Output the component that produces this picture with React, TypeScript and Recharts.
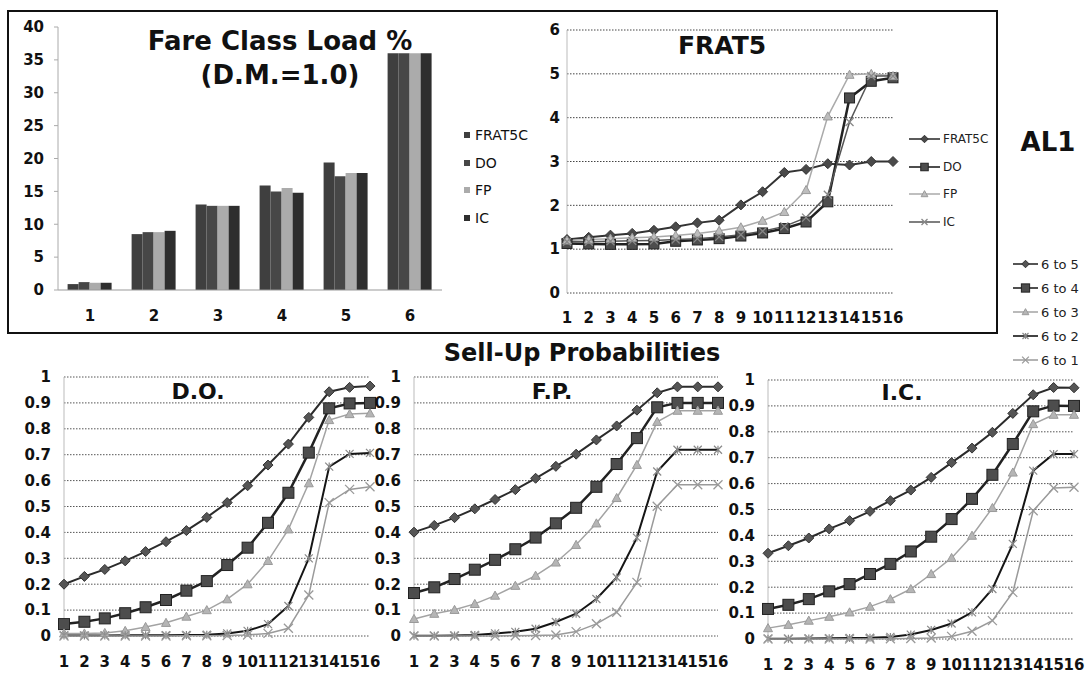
import React from "react";
import { BarChart, Bar, LineChart, Line, XAxis, YAxis, CartesianGrid } from "recharts";

// ---------- data ----------

const FARE_CLASSES = ["1", "2", "3", "4", "5", "6"];
const LOAD_FRAT5C = [0.9, 8.5, 13.0, 15.9, 19.4, 36.0];
const LOAD_DO = [1.2, 8.8, 12.8, 15.0, 17.3, 36.0];
const LOAD_FP = [1.1, 8.8, 12.8, 15.5, 17.8, 36.0];
const LOAD_IC = [1.1, 9.0, 12.8, 14.8, 17.8, 36.0];
const LOAD_TICKS = [0, 5, 10, 15, 20, 25, 30, 35, 40];

const TIME_FRAMES = ["1", "2", "3", "4", "5", "6", "7", "8", "9", "10", "11", "12", "13", "14", "15", "16"];

const FRAT5_FRAT5C = [1.22, 1.27, 1.32, 1.36, 1.43, 1.51, 1.6, 1.66, 2.01, 2.31, 2.75, 2.82, 2.95, 2.92, 3.0, 3.0];
const FRAT5_DO = [1.13, 1.12, 1.11, 1.11, 1.12, 1.18, 1.21, 1.24, 1.3, 1.37, 1.47, 1.62, 2.08, 4.45, 4.83, 4.91];
const FRAT5_FP = [1.2, 1.22, 1.24, 1.26, 1.28, 1.31, 1.36, 1.42, 1.5, 1.65, 1.85, 2.35, 4.03, 4.98, 5.0, 4.95];
const FRAT5_IC = [1.17, 1.17, 1.18, 1.19, 1.2, 1.22, 1.24, 1.28, 1.33, 1.41, 1.52, 1.72, 2.24, 3.9, 4.95, 4.95];
const FRAT5_TICKS = [0, 1, 2, 3, 4, 5, 6];

const DO_6TO5 = [0.2, 0.23, 0.257, 0.29, 0.326, 0.364, 0.407, 0.458, 0.515, 0.58, 0.66, 0.741, 0.844, 0.943, 0.96, 0.965];
const DO_6TO4 = [0.046, 0.055, 0.068, 0.088, 0.111, 0.139, 0.175, 0.212, 0.274, 0.341, 0.437, 0.553, 0.708, 0.879, 0.898, 0.9];
const DO_6TO3 = [0.01, 0.01, 0.012, 0.02, 0.035, 0.051, 0.075, 0.1, 0.142, 0.2, 0.29, 0.412, 0.59, 0.834, 0.857, 0.86];
const DO_6TO2 = [0.002, 0.002, 0.002, 0.003, 0.003, 0.003, 0.004, 0.005, 0.01, 0.02, 0.046, 0.116, 0.3, 0.654, 0.703, 0.707];
const DO_6TO1 = [0, 0, 0, 0, 0, 0, 0.001, 0.001, 0.002, 0.004, 0.01, 0.03, 0.158, 0.515, 0.566, 0.576];

const FP_6TO5 = [0.401, 0.427, 0.457, 0.491, 0.527, 0.565, 0.609, 0.655, 0.702, 0.757, 0.811, 0.872, 0.939, 0.962, 0.962, 0.962];
const FP_6TO4 = [0.166, 0.188, 0.22, 0.256, 0.294, 0.335, 0.38, 0.435, 0.495, 0.576, 0.664, 0.764, 0.883, 0.9, 0.9, 0.9];
const FP_6TO3 = [0.066, 0.086, 0.101, 0.124, 0.156, 0.194, 0.233, 0.284, 0.352, 0.435, 0.533, 0.661, 0.827, 0.87, 0.87, 0.87];
const FP_6TO2 = [0.001, 0.001, 0.002, 0.004, 0.01, 0.016, 0.028, 0.054, 0.086, 0.143, 0.226, 0.38, 0.635, 0.719, 0.719, 0.719];
const FP_6TO1 = [0, 0, 0, 0, 0, 0.001, 0.002, 0.004, 0.017, 0.047, 0.092, 0.207, 0.501, 0.584, 0.584, 0.584];

const IC_6TO5 = [0.331, 0.36, 0.39, 0.425, 0.457, 0.493, 0.534, 0.575, 0.624, 0.681, 0.737, 0.798, 0.871, 0.943, 0.971, 0.97];
const IC_6TO4 = [0.116, 0.132, 0.154, 0.184, 0.212, 0.251, 0.29, 0.338, 0.395, 0.463, 0.541, 0.634, 0.753, 0.879, 0.901, 0.9];
const IC_6TO3 = [0.042, 0.055, 0.071, 0.086, 0.103, 0.125, 0.154, 0.193, 0.251, 0.313, 0.399, 0.506, 0.643, 0.83, 0.866, 0.866];
const IC_6TO2 = [0.001, 0.001, 0.002, 0.003, 0.004, 0.005, 0.008, 0.017, 0.035, 0.06, 0.103, 0.193, 0.367, 0.65, 0.714, 0.714];
const IC_6TO1 = [0, 0, 0, 0, 0, 0, 0.001, 0.002, 0.004, 0.01, 0.03, 0.071, 0.18, 0.495, 0.583, 0.586];

const PROB_TICKS = [0, 0.1, 0.2, 0.3, 0.4, 0.5, 0.6, 0.7, 0.8, 0.9, 1];

// ---------- styles ----------

const FONT = '"DejaVu Sans", Verdana, sans-serif';
const TICK_STYLE = { fontSize: 15, fontWeight: "bold" as const, fill: "#111", fontFamily: FONT };

type Shape = "diamond" | "square" | "triangle" | "cross" | "star";

interface SeriesStyle {
  key: string;
  label: string;
  stroke: string;
  width: number;
  shape: Shape;
  size: number;
  fill: string;
  mark: string;
}

const FRAT5_SERIES: SeriesStyle[] = [
  { key: "frat5c", label: "FRAT5C", stroke: "#333", width: 2, shape: "diamond", size: 10, fill: "#4a4a4a", mark: "#333" },
  { key: "do", label: "DO", stroke: "#222", width: 2.5, shape: "square", size: 10, fill: "#4d4d4d", mark: "#222" },
  { key: "fp", label: "FP", stroke: "#aaa", width: 1.5, shape: "triangle", size: 9, fill: "#bdbdbd", mark: "#999" },
  { key: "ic", label: "IC", stroke: "#555", width: 1.5, shape: "cross", size: 8, fill: "none", mark: "#888" },
];

const SELLUP_SERIES: SeriesStyle[] = [
  { key: "s5", label: "6 to 5", stroke: "#2b2b2b", width: 2, shape: "diamond", size: 10, fill: "#555", mark: "#333" },
  { key: "s4", label: "6 to 4", stroke: "#222", width: 2.5, shape: "square", size: 11, fill: "#4d4d4d", mark: "#222" },
  { key: "s3", label: "6 to 3", stroke: "#a3a3a3", width: 1.5, shape: "triangle", size: 9, fill: "#b5b5b5", mark: "#9a9a9a" },
  { key: "s2", label: "6 to 2", stroke: "#151515", width: 2, shape: "star", size: 8, fill: "none", mark: "#888" },
  { key: "s1", label: "6 to 1", stroke: "#9a9a9a", width: 1.5, shape: "cross", size: 9, fill: "none", mark: "#9a9a9a" },
];

const LOAD_SERIES = [
  { key: "frat5c", label: "FRAT5C", fill: "#3f3f3f" },
  { key: "do", label: "DO", fill: "#474747" },
  { key: "fp", label: "FP", fill: "#ababab" },
  { key: "ic", label: "IC", fill: "#2e2e2e" },
];

// ---------- tables ----------

const loadData = FARE_CLASSES.map((c, i) => ({
  fareClass: c,
  frat5c: LOAD_FRAT5C[i],
  do: LOAD_DO[i],
  fp: LOAD_FP[i],
  ic: LOAD_IC[i],
}));

const frat5Data = TIME_FRAMES.map((t, i) => ({
  tf: t,
  frat5c: FRAT5_FRAT5C[i],
  do: FRAT5_DO[i],
  fp: FRAT5_FP[i],
  ic: FRAT5_IC[i],
}));

function sellUpRows(s5: number[], s4: number[], s3: number[], s2: number[], s1: number[]) {
  return TIME_FRAMES.map((t, i) => ({ tf: t, s5: s5[i], s4: s4[i], s3: s3[i], s2: s2[i], s1: s1[i] }));
}

const doData = sellUpRows(DO_6TO5, DO_6TO4, DO_6TO3, DO_6TO2, DO_6TO1);
const fpData = sellUpRows(FP_6TO5, FP_6TO4, FP_6TO3, FP_6TO2, FP_6TO1);
const icData = sellUpRows(IC_6TO5, IC_6TO4, IC_6TO3, IC_6TO2, IC_6TO1);

// ---------- markers ----------

function drawMarker(st: SeriesStyle, cx: number, cy: number, key?: string) {
  const s = st.size / 2;
  switch (st.shape) {
    case "diamond":
      return (
        <polygon key={key} points={`${cx},${cy - s} ${cx + s},${cy} ${cx},${cy + s} ${cx - s},${cy}`}
          fill={st.fill} stroke={st.mark} strokeWidth={1} />
      );
    case "square":
      return <rect key={key} x={cx - s} y={cy - s} width={st.size} height={st.size} fill={st.fill} stroke={st.mark} strokeWidth={1} />;
    case "triangle":
      return (
        <polygon key={key} points={`${cx},${cy - s} ${cx + s},${cy + s * 0.8} ${cx - s},${cy + s * 0.8}`}
          fill={st.fill} stroke={st.mark} strokeWidth={1} />
      );
    case "cross":
      return (
        <path key={key} d={`M${cx - s},${cy - s}L${cx + s},${cy + s}M${cx - s},${cy + s}L${cx + s},${cy - s}`}
          stroke={st.mark} strokeWidth={1.3} fill="none" />
      );
    case "star":
      return (
        <path key={key}
          d={`M${cx - s},${cy - s}L${cx + s},${cy + s}M${cx - s},${cy + s}L${cx + s},${cy - s}M${cx},${cy - s}L${cx},${cy + s}`}
          stroke={st.mark} strokeWidth={1.2} fill="none" />
      );
  }
}

const dotFor = (st: SeriesStyle) => (props: any) => {
  const { cx, cy, index } = props;
  if (cx == null || cy == null) return <g key={`e-${st.key}-${index}`} />;
  return drawMarker(st, cx, cy, `m-${st.key}-${index}`);
};

// ---------- small pieces ----------

function Title({ text, x, y, size }: { text: string; x: number; y: number; size: number }) {
  return (
    <div style={{
      position: "absolute", left: x, top: y, transform: "translate(-50%, -50%)",
      fontFamily: FONT, fontWeight: "bold", fontSize: size, lineHeight: 1, whiteSpace: "nowrap", color: "#111",
    }}>
      {text}
    </div>
  );
}

function LineLegend({ items, left, top, step, lineLen, fontSize }: {
  items: SeriesStyle[]; left: number; top: number; step: number; lineLen: number; fontSize: number;
}) {
  return (
    <>
      {items.map((it, i) => (
        <div key={it.key} style={{
          position: "absolute", left, top: top + i * step - 10, height: 20,
          display: "flex", alignItems: "center", fontFamily: FONT, fontSize, color: "#222", whiteSpace: "nowrap",
        }}>
          <svg width={lineLen} height={20} style={{ marginRight: 3 }}>
            <line x1={0} y1={10} x2={lineLen} y2={10} stroke={it.stroke} strokeWidth={Math.min(it.width, 1.6)} />
            {drawMarker({ ...it, size: it.size * 0.75 }, lineLen / 2, 10)}
          </svg>
          <span>{it.label}</span>
        </div>
      ))}
    </>
  );
}

// ---------- charts ----------

function LoadChart() {
  return (
    <div style={{ position: "absolute", left: 0, top: 0 }}>
      <BarChart width={460} height={330} data={loadData} margin={{ top: 27, right: 18, bottom: 10, left: 0 }}
        barCategoryGap="15%" barGap={0}>
        <XAxis dataKey="fareClass" height={30} axisLine={{ stroke: "#999" }} tickLine={false}
          tickSize={6} tickMargin={14} tick={TICK_STYLE} />
        <YAxis domain={[0, 40]} ticks={LOAD_TICKS} width={58} axisLine={{ stroke: "#aaa" }}
          tickLine={{ stroke: "#aaa" }} tickSize={4} tickMargin={10} tick={TICK_STYLE} />
        {LOAD_SERIES.map((s) => (
          <Bar key={s.key} dataKey={s.key} name={s.label} fill={s.fill} isAnimationActive={false} />
        ))}
      </BarChart>
      {LOAD_SERIES.map((s, i) => (
        <div key={s.key} style={{
          position: "absolute", left: 464, top: 135 + i * 27.7 - 10, height: 20,
          display: "flex", alignItems: "center", fontFamily: FONT, fontSize: 14, color: "#111",
        }}>
          <span style={{ width: 6, height: 6, background: s.fill, marginRight: 5, display: "inline-block" }} />
          <span>{s.label}</span>
        </div>
      ))}
    </div>
  );
}

function Frat5Chart() {
  return (
    <div style={{ position: "absolute", left: 500, top: 0 }}>
      <LineChart width={420} height={335} data={frat5Data} margin={{ top: 30, right: 27, bottom: 10, left: 0 }}>
        <CartesianGrid vertical={false} stroke="#444" strokeDasharray="1.5 1.5" />
        <XAxis dataKey="tf" height={32} axisLine={false} tickLine={false} interval={0}
          tickSize={6} tickMargin={13} tick={TICK_STYLE} />
        <YAxis domain={[0, 6]} ticks={FRAT5_TICKS} width={67} axisLine={{ stroke: "#bbb" }} tickLine={false}
          tickSize={4} tickMargin={3} tick={TICK_STYLE} />
        {FRAT5_SERIES.map((s) => (
          <Line key={s.key} type="linear" dataKey={s.key} name={s.label} stroke={s.stroke} strokeWidth={s.width}
            dot={dotFor(s)} activeDot={false} isAnimationActive={false} />
        ))}
      </LineChart>
    </div>
  );
}

function SellUpChart({ data, left, top, width, rightPad }: {
  data: Record<string, number | string>[]; left: number; top: number; width: number; rightPad: number;
}) {
  return (
    <div style={{ position: "absolute", left, top }}>
      <LineChart width={width} height={333} data={data} margin={{ top: 37, right: rightPad, bottom: 7, left: 0 }}>
        <CartesianGrid vertical={false} stroke="#555" strokeDasharray="1.5 1.5" />
        <XAxis dataKey="tf" height={30} axisLine={false} tickLine={false} interval={0}
          tickSize={6} tickMargin={14} tick={TICK_STYLE} />
        <YAxis domain={[0, 1]} ticks={PROB_TICKS} width={64} axisLine={{ stroke: "#bbb" }} tickLine={false}
          tickSize={4} tickMargin={9} tick={TICK_STYLE} />
        {SELLUP_SERIES.map((s) => (
          <Line key={s.key} type="linear" dataKey={s.key} name={s.label} stroke={s.stroke} strokeWidth={s.width}
            dot={dotFor(s)} activeDot={false} isAnimationActive={false} />
        ))}
      </LineChart>
    </div>
  );
}

export default function App() {
  return (
    <div style={{ position: "absolute", left: 0, top: 0, width: 1086, height: 673, background: "#fff", overflow: "hidden" }}>
      <div style={{
        position: "absolute", left: 7, top: 10, width: 991, height: 324,
        border: "2px solid #111", boxSizing: "border-box",
      }} />
      <LoadChart />
      <Title text="Fare Class Load %" x={280} y={41} size={26} />
      <Title text="(D.M.=1.0)" x={280} y={75} size={26} />

      <Frat5Chart />
      <Title text="FRAT5" x={722} y={45} size={25} />
      <LineLegend items={FRAT5_SERIES} left={909} top={139} step={27.5} lineLen={31} fontSize={12} />

      <Title text="AL1" x={1048} y={142} size={26} />
      <LineLegend items={SELLUP_SERIES} left={1013} top={264} step={24} lineLen={25} fontSize={13} />

      <Title text="Sell-Up Probabilities" x={582} y={353} size={24} />

      <SellUpChart data={doData} left={0} top={340} width={380} rightPad={10} />
      <Title text="D.O." x={198} y={392} size={22} />

      <SellUpChart data={fpData} left={350} top={340} width={380} rightPad={12} />
      <Title text="F.P." x={552} y={392} size={22} />

      <SellUpChart data={icData} left={704} top={342.5} width={382} rightPad={12} />
      <Title text="I.C." x={902} y={393} size={22} />
    </div>
  );
}
